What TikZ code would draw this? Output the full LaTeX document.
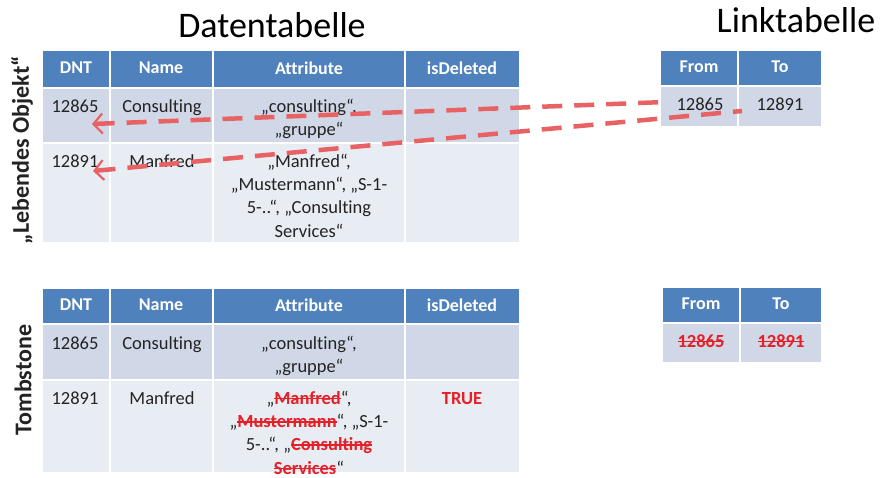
\documentclass[tikz,border=0pt]{standalone}
\usepackage{fontspec}
\setmainfont{Carlito}[Ligatures=NoCommon]
\usetikzlibrary{arrows.meta}

\definecolor{hdblue}{RGB}{79,129,189}
\definecolor{rowa}{RGB}{208,216,232}
\definecolor{rowb}{RGB}{232,236,243}
\definecolor{delred}{RGB}{228,32,40}
\definecolor{linkred}{RGB}{232,98,100}
\definecolor{ink}{RGB}{35,35,35}

% struck-out (deleted) value
\newsavebox\delbox
\newcommand\del[1]{\textcolor{delred}{\bfseries\sbox\delbox{#1}\rlap{\rule[0.27em]{\wd\delbox}{1.4pt}}\usebox\delbox}}
\newcommand\lstrut{\rule{0pt}{14pt}}

\tikzset{
  hdcell/.style={fill=hdblue,draw=white,line width=1.5pt},
  acell/.style={fill=rowa,draw=white,line width=1.5pt},
  bcell/.style={fill=rowb,draw=white,line width=1.5pt},
  hd/.style={font=\fontsize{18}{20}\selectfont\bfseries,text=white,inner sep=0pt},
  body/.style={font=\fontsize{18.5}{23.3}\selectfont,text=ink,align=center,anchor=north,inner sep=0pt},
  title/.style={font=\fontsize{36}{40}\selectfont,text=black,anchor=base,inner sep=0pt},
  side/.style={font=\fontsize{24}{26}\selectfont\bfseries,text=ink,rotate=90,inner sep=0pt},
  link/.style={draw=linkred,line width=4.5pt,dash pattern=on 20pt off 12pt,
    arrows={Straight Barb[length=9pt,width=20pt,line width=2.2pt]-}},
}

\begin{document}
\begin{tikzpicture}[x=1pt,y=-1pt]
\useasboundingbox (0,0) rectangle (880,478);
\fill[white] (0,0) rectangle (880,478);

% titles and side labels
\node[title] (tdat) at (272,38) {Datentabelle};
\node[title] (tlink) at (796,33) {Linktabelle};
\node[side] (slive) at (22,150) {„Lebendes Objekt“};
\node[side] (stomb) at (23,380) {Tombstone};

% ---------- data table, live object ----------
\path[hdcell] (42,50) rectangle (110,88);
\path[hdcell] (110,50) rectangle (213,88);
\path[hdcell] (213,50) rectangle (405,88);
\path[hdcell] (405,50) rectangle (520,88);
\path[acell] (42,88) rectangle (110,143);
\path[acell] (110,88) rectangle (213,143);
\path[acell] (213,88) rectangle (405,143);
\path[acell] (405,88) rectangle (520,143);
\path[bcell] (42,143) rectangle (110,243);
\path[bcell] (110,143) rectangle (213,243);
\path[bcell] (213,143) rectangle (405,243);
\path[bcell] (405,143) rectangle (520,243);

\node[hd] (h1a) at (76,68) {DNT};
\node[hd] (h1b) at (161,68) {Name};
\node[hd] (h1c) at (309,68) {Attribute};
\node[hd] (h1d) at (462,68) {isDeleted};

\node[body] (d1a) at (75,98) {\lstrut 12865};
\node[body] (d1b) at (162,98) {\lstrut Consulting};
\node[body] (d1c) at (309,98) {\lstrut„consulting“,\\„gruppe“};
\node[body] (d2a) at (75,153) {\lstrut 12891};
\node[body] (d2b) at (162,153) {\lstrut Manfred};
\node[body] (d2c) at (309,153) {\lstrut„Manfred“,\\„Mustermann“, „S-1-\\5-..“, „Consulting\\Services“};

% ---------- data table, tombstone ----------
\path[hdcell] (42,288) rectangle (110,324);
\path[hdcell] (110,288) rectangle (213,324);
\path[hdcell] (213,288) rectangle (405,324);
\path[hdcell] (405,288) rectangle (520,324);
\path[acell] (42,324) rectangle (110,380);
\path[acell] (110,324) rectangle (213,380);
\path[acell] (213,324) rectangle (405,380);
\path[acell] (405,324) rectangle (520,380);
\path[bcell] (42,380) rectangle (110,473);
\path[bcell] (110,380) rectangle (213,473);
\path[bcell] (213,380) rectangle (405,473);
\path[bcell] (405,380) rectangle (520,473);

\node[hd] (h2a) at (76,305) {DNT};
\node[hd] (h2b) at (161,305) {Name};
\node[hd] (h2c) at (309,305) {Attribute};
\node[hd] (h2d) at (462,305) {isDeleted};

\node[body] (e1a) at (75,335) {\lstrut 12865};
\node[body] (e1b) at (162,335) {\lstrut Consulting};
\node[body] (e1c) at (309,335) {\lstrut„consulting“,\\„gruppe“};
\node[body] (e2a) at (75,390) {\lstrut 12891};
\node[body] (e2b) at (162,390) {\lstrut Manfred};
\node[body] (e2c) at (309,390) {\lstrut„\del{Manfred}“,\\„\del{Mustermann}“, „S-1-\\5-..“, „\del{Consulting}\\\del{Services}“};
\node[body] (e2d) at (462,390) {\lstrut\textcolor{delred}{\bfseries TRUE}};

% ---------- link table, live ----------
\path[hdcell] (660,50) rectangle (738,86);
\path[hdcell] (738,50) rectangle (822,86);
\path[acell] (660,86) rectangle (738,127);
\path[acell] (738,86) rectangle (822,127);
\node[hd] (lh1a) at (699,67) {From};
\node[hd] (lh1b) at (780,67) {To};
\node[body] (l1a) at (700,96) {\lstrut 12865};
\node[body] (l1b) at (780,96) {\lstrut 12891};

% ---------- link table, tombstone ----------
\path[hdcell] (662,287) rectangle (740,323);
\path[hdcell] (740,287) rectangle (822,323);
\path[acell] (662,323) rectangle (740,363);
\path[acell] (740,323) rectangle (822,363);
\node[hd] (lh2a) at (701,304) {From};
\node[hd] (lh2b) at (781,304) {To};
\node[body] (l2a) at (701,333) {\lstrut\del{12865}};
\node[body] (l2b) at (781,333) {\lstrut\del{12891}};

% ---------- link references ----------
\coordinate (r1s) at (665,102);
\coordinate (r1e) at (92,124);
\coordinate (r2s) at (742,111);
\coordinate (r2e) at (93,171);
\draw[link] (r1e) -- (r1s);
\draw[link] (r2e) -- (r2s);
\end{tikzpicture}
\end{document}
